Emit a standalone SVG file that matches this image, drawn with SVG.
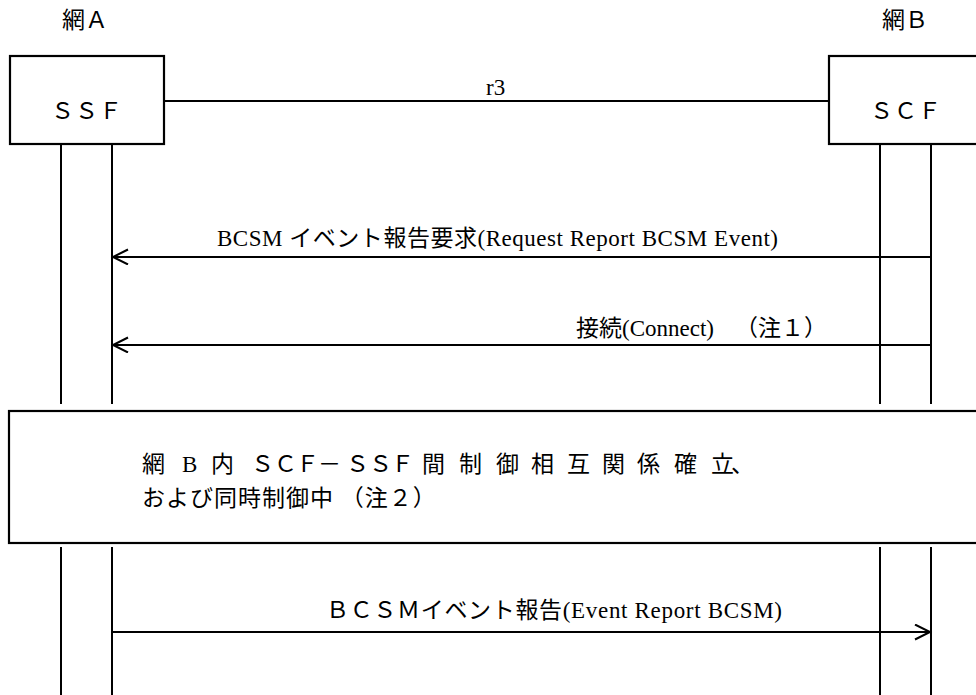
<svg xmlns="http://www.w3.org/2000/svg" width="976" height="695" viewBox="0 0 976 695">
<style>
.t { font-family: "Liberation Serif", "Noto Sans CJK JP", serif; font-size: 23px; fill: #000; }
.box { fill: #fff; stroke: #000; stroke-width: 2.2; }
.ln { stroke: #000; stroke-width: 2; fill: none; }
</style>
<defs>
<marker id="ah" markerUnits="userSpaceOnUse" markerWidth="20" markerHeight="20" refX="16" refY="8" orient="auto">
<path d="M1,0.5 L16,8 L1,15.5" fill="none" stroke="#000" stroke-width="2"/>
</marker>
</defs>
<rect width="976" height="695" fill="#fff"/>

<g id="lifelines">
<line class="ln" x1="61" y1="144" x2="61" y2="404"/>
<line class="ln" x1="112" y1="144" x2="112" y2="404"/>
<line class="ln" x1="880" y1="144" x2="880" y2="404"/>
<line class="ln" x1="931" y1="144" x2="931" y2="404"/>
<line class="ln" x1="61" y1="547" x2="61" y2="695"/>
<line class="ln" x1="112" y1="547" x2="112" y2="695"/>
<line class="ln" x1="880" y1="547" x2="880" y2="695"/>
<line class="ln" x1="931" y1="547" x2="931" y2="695"/>
</g>

<g id="labelA"><text class="t" x="62" y="28">網Ａ</text></g>
<g id="labelB"><text class="t" x="882" y="28">網Ｂ</text></g>

<g id="ssf">
<rect class="box" x="10" y="56" width="154" height="88"/>
<text class="t" x="51" y="119" letter-spacing="1">ＳＳＦ</text>
</g>
<g id="scf">
<rect class="box" x="829" y="56" width="200" height="88"/>
<text class="t" x="870" y="119" letter-spacing="1">ＳＣＦ</text>
</g>

<g id="connectors">
<line class="ln" x1="164" y1="101" x2="829" y2="101"/>
<text class="t" x="486" y="95">r3</text>
<line class="ln" x1="931" y1="257" x2="113" y2="257" marker-end="url(#ah)"/>
<text class="t" x="217" y="246" textLength="561" lengthAdjust="spacing">BCSM イベント報告要求(Request Report BCSM Event)</text>
<line class="ln" x1="931" y1="345" x2="113" y2="345" marker-end="url(#ah)"/>
<text class="t" x="576" y="336">接続(Connect) <tspan x="735">（注１）</tspan></text>
<line class="ln" x1="112" y1="632" x2="930" y2="632" marker-end="url(#ah)"/>
<text class="t" x="326" y="618" textLength="456" lengthAdjust="spacing">ＢＣＳＭイベント報告(Event Report BCSM)</text>
</g>

<g id="state">
<rect class="box" x="9" y="411" width="1000" height="132"/>
<text class="t" y="472" x="142 165 182 198 211 234 251 274 296 318 346 369 391 414 422 445 459 482 496 519 531 554 567 590 602 625 637 660 674 697 711 731">網 B 内 ＳＣＦ－ＳＳＦ 間 制 御 相 互 関 係 確 立、</text>
<text class="t" x="142" y="506" letter-spacing="1">および同時制御中 （注２）</text>
</g>
</svg>
